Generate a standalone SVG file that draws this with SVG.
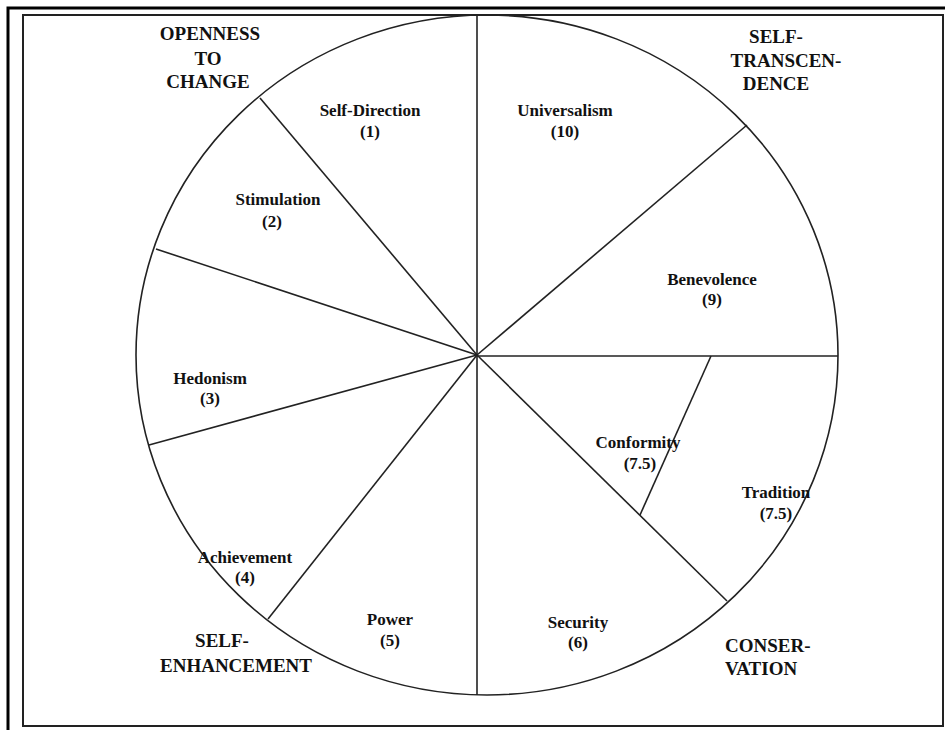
<svg xmlns="http://www.w3.org/2000/svg" width="945" height="730" viewBox="0 0 945 730">
<style>
.t{font-family:"Liberation Serif","Times New Roman",serif;font-weight:bold;fill:#111;text-anchor:middle}
.v{font-size:17px}
.c{font-size:19px}
.ln{stroke:#222;stroke-width:1.6;fill:none}
</style>
<rect width="945" height="730" fill="#fff"/>
<g id="frame">
<path d="M8 730 V8 H945" fill="none" stroke="#000" stroke-width="3"/>
<rect x="23" y="15" width="920" height="711" fill="none" stroke="#222" stroke-width="2"/>
</g>
<g id="circle">
<ellipse cx="487" cy="355" rx="351" ry="340" class="ln" stroke-width="2"/>
</g>
<g id="connectors">
<line class="ln" x1="477" y1="355" x2="477" y2="15"/>
<line class="ln" x1="477" y1="355" x2="477" y2="695"/>
<line class="ln" x1="477" y1="355" x2="260" y2="98"/>
<line class="ln" x1="477" y1="355" x2="747" y2="125"/>
<line class="ln" x1="477" y1="356" x2="838" y2="356"/>
<line class="ln" x1="477" y1="355" x2="156" y2="249"/>
<line class="ln" x1="477" y1="355" x2="149" y2="445"/>
<line class="ln" x1="477" y1="355" x2="268" y2="619"/>
<line class="ln" x1="477" y1="355" x2="727" y2="601"/>
<line class="ln" x1="711" y1="356" x2="640" y2="515"/>
</g>
<g id="self-direction"><text class="t v" x="370" y="116">Self-Direction</text><text class="t v" x="370" y="137">(1)</text></g>
<g id="universalism"><text class="t v" x="565" y="116">Universalism</text><text class="t v" x="565" y="137">(10)</text></g>
<g id="stimulation"><text class="t v" x="278" y="205">Stimulation</text><text class="t v" x="272" y="227">(2)</text></g>
<g id="benevolence"><text class="t v" x="712" y="285">Benevolence</text><text class="t v" x="712" y="305">(9)</text></g>
<g id="hedonism"><text class="t v" x="210" y="384">Hedonism</text><text class="t v" x="210" y="404">(3)</text></g>
<g id="conformity"><text class="t v" x="638" y="448">Conformity</text><text class="t v" x="640" y="469">(7.5)</text></g>
<g id="tradition"><text class="t v" x="776" y="498">Tradition</text><text class="t v" x="776" y="519">(7.5)</text></g>
<g id="achievement"><text class="t v" x="245" y="563">Achievement</text><text class="t v" x="245" y="583">(4)</text></g>
<g id="power"><text class="t v" x="390" y="625">Power</text><text class="t v" x="390" y="646">(5)</text></g>
<g id="security"><text class="t v" x="578" y="628">Security</text><text class="t v" x="578" y="648">(6)</text></g>
<g id="openness"><text class="t c" x="210" y="40">OPENNESS</text><text class="t c" x="208" y="65">TO</text><text class="t c" x="208" y="88">CHANGE</text></g>
<g id="self-transcendence"><text class="t c" x="776" y="43">SELF-</text><text class="t c" x="786" y="67">TRANSCEN-</text><text class="t c" x="776" y="90">DENCE</text></g>
<g id="self-enhancement"><text class="t c" x="222" y="647">SELF-</text><text class="t c" x="236" y="672">ENHANCEMENT</text></g>
<g id="conservation"><text class="t c" x="725" y="652" text-anchor="start" style="text-anchor:start">CONSER-</text><text class="t c" x="725" y="675" style="text-anchor:start">VATION</text></g>
</svg>
